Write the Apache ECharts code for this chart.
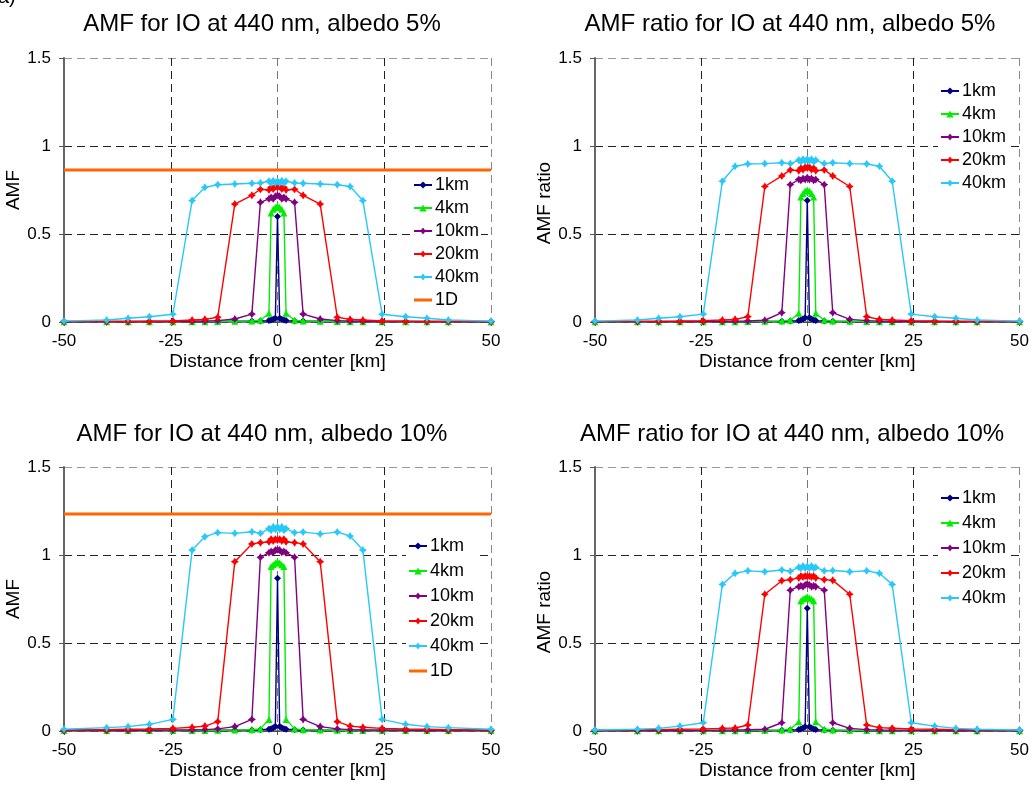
<!DOCTYPE html>
<html><head><meta charset="utf-8">
<script src="https://cdn.jsdelivr.net/npm/echarts@6/dist/echarts.min.js"></script>
<style>html,body{margin:0;padding:0;background:#fff}#c{width:1032px;height:791px}</style>
</head><body><div id="c"></div>
<script>
// Distance from center [km] (shared x positions)
const xs = [-50,-40,-35,-30,-24.5,-20,-17,-14,-10,-6,-4,-2,-1.5,-1,-0.5,0,0.5,1,1.5,2,4,6,10,14,17,20,24.5,30,35,40,50];
const xRange = [-50, 50, 25];
const yRange = [0, 1.5, 0.5];
const seriesNames = ['1km','4km','10km','20km','40km','1D'];
const titles = ['AMF for IO at 440 nm, albedo 5%','AMF ratio for IO at 440 nm, albedo 5%','AMF for IO at 440 nm, albedo 10%','AMF ratio for IO at 440 nm, albedo 10%'];
const yNames = ['AMF','AMF ratio','AMF','AMF ratio'];
const xName = 'Distance from center [km]';

// Panel 1: AMF, albedo 5%
const amf5_1km  = [0.003,0.003,0.003,0.003,0.003,0.003,0.003,0.003,0.004,0.005,0.006,0.008,0.012,0.016,0.022,0.600,0.022,0.016,0.012,0.008,0.006,0.005,0.004,0.003,0.003,0.003,0.003,0.003,0.003,0.003,0.003];
const amf5_4km  = [0.002,0.002,0.002,0.002,0.002,0.002,0.002,0.003,0.004,0.006,0.010,0.050,0.620,0.640,0.650,0.660,0.650,0.640,0.620,0.050,0.010,0.006,0.004,0.003,0.002,0.002,0.002,0.002,0.002,0.002,0.002];
const amf5_10km = [0.001,0.002,0.002,0.003,0.003,0.004,0.005,0.008,0.017,0.045,0.680,0.700,0.708,0.700,0.715,0.720,0.715,0.700,0.708,0.700,0.680,0.045,0.017,0.008,0.005,0.004,0.003,0.003,0.002,0.002,0.001];
const amf5_20km = [0.002,0.003,0.003,0.004,0.006,0.011,0.015,0.027,0.670,0.720,0.754,0.750,0.765,0.755,0.770,0.765,0.770,0.755,0.765,0.750,0.754,0.720,0.670,0.027,0.015,0.011,0.006,0.004,0.003,0.003,0.002];
const amf5_40km = [0.005,0.011,0.021,0.030,0.044,0.690,0.765,0.780,0.784,0.788,0.790,0.800,0.790,0.802,0.790,0.800,0.790,0.802,0.790,0.800,0.790,0.788,0.784,0.780,0.770,0.690,0.044,0.030,0.021,0.011,0.005];
const amf5_1D = 0.864;

// Panel 2: AMF ratio, albedo 5%
const r5_1km  = [0.002,0.002,0.002,0.002,0.002,0.002,0.002,0.002,0.003,0.004,0.005,0.008,0.012,0.017,0.024,0.690,0.024,0.017,0.012,0.008,0.005,0.004,0.003,0.002,0.002,0.002,0.002,0.002,0.002,0.002,0.002];
const r5_4km  = [0.002,0.002,0.002,0.002,0.002,0.002,0.002,0.003,0.004,0.006,0.010,0.050,0.710,0.730,0.745,0.750,0.745,0.730,0.710,0.050,0.010,0.006,0.004,0.003,0.002,0.002,0.002,0.002,0.002,0.002,0.002];
const r5_10km = [0.002,0.002,0.002,0.003,0.003,0.004,0.005,0.006,0.010,0.053,0.780,0.810,0.805,0.815,0.810,0.820,0.810,0.815,0.805,0.810,0.780,0.053,0.015,0.008,0.005,0.004,0.003,0.003,0.002,0.002,0.002];
const r5_20km = [0.003,0.004,0.005,0.006,0.008,0.011,0.015,0.030,0.770,0.830,0.864,0.860,0.875,0.865,0.880,0.875,0.880,0.865,0.875,0.860,0.864,0.830,0.770,0.030,0.015,0.011,0.008,0.006,0.005,0.004,0.003];
const r5_40km = [0.005,0.011,0.021,0.030,0.045,0.800,0.885,0.898,0.900,0.905,0.900,0.920,0.910,0.925,0.915,0.925,0.915,0.925,0.910,0.920,0.900,0.905,0.900,0.898,0.885,0.800,0.045,0.030,0.021,0.011,0.005];

// Panel 3: AMF, albedo 10%
const a10_1km  = [0.004,0.004,0.004,0.004,0.004,0.004,0.004,0.004,0.005,0.006,0.007,0.010,0.013,0.018,0.025,0.868,0.025,0.018,0.013,0.010,0.007,0.006,0.005,0.004,0.004,0.004,0.004,0.004,0.004,0.004,0.004];
const a10_4km  = [0.003,0.003,0.003,0.003,0.003,0.003,0.003,0.004,0.005,0.007,0.012,0.066,0.934,0.945,0.955,0.962,0.955,0.945,0.934,0.066,0.012,0.007,0.005,0.004,0.003,0.003,0.003,0.003,0.003,0.003,0.003];
const a10_10km = [0.002,0.003,0.003,0.004,0.005,0.006,0.008,0.012,0.025,0.066,0.987,1.013,1.020,1.015,1.028,1.030,1.028,1.015,1.020,1.013,0.987,0.066,0.025,0.012,0.008,0.006,0.005,0.004,0.003,0.003,0.002];
const a10_20km = [0.005,0.008,0.010,0.012,0.015,0.021,0.028,0.053,0.962,1.063,1.070,1.075,1.090,1.080,1.090,1.085,1.090,1.080,1.090,1.075,1.070,1.063,0.962,0.053,0.028,0.021,0.015,0.012,0.010,0.008,0.005];
const a10_40km = [0.010,0.019,0.025,0.038,0.066,1.028,1.104,1.127,1.123,1.132,1.123,1.150,1.140,1.160,1.145,1.160,1.145,1.160,1.140,1.150,1.127,1.130,1.120,1.130,1.108,1.028,0.066,0.038,0.025,0.019,0.010];
const a10_1D = 1.233;

// Panel 4: AMF ratio, albedo 10%
const r10_1km  = [0.002,0.002,0.002,0.002,0.002,0.002,0.002,0.002,0.003,0.004,0.005,0.008,0.012,0.017,0.024,0.697,0.024,0.017,0.012,0.008,0.005,0.004,0.003,0.002,0.002,0.002,0.002,0.002,0.002,0.002,0.002];
const r10_4km  = [0.002,0.002,0.002,0.002,0.002,0.002,0.002,0.003,0.004,0.006,0.010,0.053,0.740,0.750,0.755,0.763,0.755,0.750,0.740,0.053,0.010,0.006,0.004,0.003,0.002,0.002,0.002,0.002,0.002,0.002,0.002];
const r10_10km = [0.002,0.002,0.003,0.003,0.004,0.005,0.006,0.007,0.010,0.047,0.800,0.820,0.825,0.820,0.830,0.835,0.830,0.820,0.825,0.820,0.800,0.047,0.015,0.008,0.006,0.005,0.004,0.003,0.003,0.002,0.002];
const r10_20km = [0.005,0.007,0.008,0.010,0.012,0.015,0.017,0.034,0.777,0.854,0.860,0.870,0.880,0.875,0.880,0.878,0.880,0.875,0.880,0.870,0.860,0.856,0.777,0.034,0.019,0.016,0.012,0.010,0.008,0.007,0.005];
const r10_40km = [0.006,0.010,0.015,0.028,0.047,0.833,0.896,0.910,0.905,0.915,0.908,0.930,0.925,0.937,0.925,0.935,0.925,0.937,0.925,0.930,0.910,0.912,0.905,0.910,0.896,0.833,0.047,0.028,0.015,0.010,0.006];

const panels = [
  [amf5_1km, amf5_4km, amf5_10km, amf5_20km, amf5_40km, amf5_1D],
  [r5_1km, r5_4km, r5_10km, r5_20km, r5_40km, null],
  [a10_1km, a10_4km, a10_10km, a10_20km, a10_40km, a10_1D],
  [r10_1km, r10_4km, r10_10km, r10_20km, r10_40km, null]
];

const FONT = '"Liberation Sans", Arial, sans-serif';
const STAR = 'path://M0,-10 L4,-4 L10,0 L4,4 L0,10 L-4,4 L-10,0 L-4,-4 Z';
const styles = [
  {color:'#000080', symbol:'diamond', size:7},
  {color:'#00ee00', symbol:'triangle', size:7},
  {color:'#800080', symbol:STAR, size:8},
  {color:'#ff0000', symbol:STAR, size:8},
  {color:'#28c8f8', symbol:STAR, size:8}
];

const grids = [
  {left:64, top:58, width:427, height:264},
  {left:595, top:58, width:426, height:264},
  {left:64, top:467, width:427, height:264},
  {left:595, top:467, width:426, height:264}
];
const titlePos = [[257,7],[785,7],[257,417],[787,417]];
const legendPos = [
  {left:411, top:174, itemGap:5},
  {left:938, top:80, itemGap:5},
  {left:406, top:535, itemGap:7},
  {left:938, top:487, itemGap:7}
];

const series = [];
panels.forEach((p, gi) => {
  for (let k = 0; k < 5; k++) {
    const st = styles[k];
    series.push({
      type:'line', name:seriesNames[k], xAxisIndex:gi, yAxisIndex:gi,
      data: xs.map((x,i)=>[x, p[k][i]]),
      symbol:st.symbol, symbolSize:st.size, showAllSymbol:true,
      lineStyle:{color:st.color, width:1.4},
      itemStyle:{color:st.color},
      emphasis:{disabled:true}, z:2+k
    });
  }
  if (p[5] !== null) {
    series.push({
      type:'line', name:'1D', xAxisIndex:gi, yAxisIndex:gi,
      data:[[xRange[0], p[5]],[xRange[1], p[5]]],
      symbol:'none', lineStyle:{color:'#ff6600', width:3}, itemStyle:{color:'#ff6600'},
      emphasis:{disabled:true}, z:8
    });
  }
});

const LINE_ICON = 'path://M0,0 L18,0 L18,3 L0,3 Z';
const option = {
  animation:false,
  backgroundColor:'#fff',
  textStyle:{fontFamily:FONT},
  title: titles.map((t,i)=>({text:t, left:titlePos[i][0], top:titlePos[i][1], textAlign:'center',
    textStyle:{fontFamily:FONT, fontSize:24, fontWeight:'normal', color:'#000'}})),
  grid: grids,
  legend: legendPos.map((lp,i)=>({
    orient:'vertical', left:lp.left, top:lp.top, itemGap:lp.itemGap, padding:[2,2],
    itemWidth:18, itemHeight:9, backgroundColor:'#fff', selectedMode:false,
    data: (i%2===0 ? seriesNames.slice(0,5).concat([{name:'1D', icon:LINE_ICON}]) : seriesNames.slice(0,5)),
    textStyle:{fontFamily:FONT, fontSize:18, color:'#000', padding:[0,0,0,-2]}
  })),
  xAxis: grids.map((g,i)=>({
    type:'value', gridIndex:i, min:xRange[0], max:xRange[1], interval:xRange[2],
    name:xName, nameLocation:'middle', nameGap:30,
    nameTextStyle:{fontFamily:FONT, fontSize:19, color:'#000'},
    axisLine:{onZero:false, lineStyle:{color:'#555', width:1.5}},
    axisTick:{show:true, length:4, lineStyle:{color:'#555'}},
    axisLabel:{fontFamily:FONT, fontSize:17, color:'#000', margin:11},
    splitLine:{show:true, lineStyle:{type:[8,5], width:1, color:['#444','#222','#777','#222','#888']}}
  })),
  yAxis: grids.map((g,i)=>({
    type:'value', gridIndex:i, min:yRange[0], max:yRange[1], interval:yRange[2],
    name:yNames[i], nameLocation:'middle', nameGap:36,
    nameTextStyle:{fontFamily:FONT, fontSize:19, color:'#000', padding: (i%2===1 ? [0,26,0,0] : [0,0,0,0])},
    axisLine:{show:true, onZero:false, lineStyle:{color:'#666', width:2}},
    axisTick:{show:true, length:5, lineStyle:{color:'#555'}},
    axisLabel:{fontFamily:FONT, fontSize:17, color:'#000', margin:13},
    splitLine:{show:true, lineStyle:{type:[8,5], width:1, color:['#444','#222','#222','#999']}}
  })),
  graphic:[{type:'text', left:-2, top:-13, style:{text:'a)', font:'20px "Liberation Sans", Arial', fill:'#000'}}],
  series: series
};
const chart = echarts.init(document.getElementById('c'), null, {renderer:'canvas'});
chart.setOption(option);
</script></body></html>
